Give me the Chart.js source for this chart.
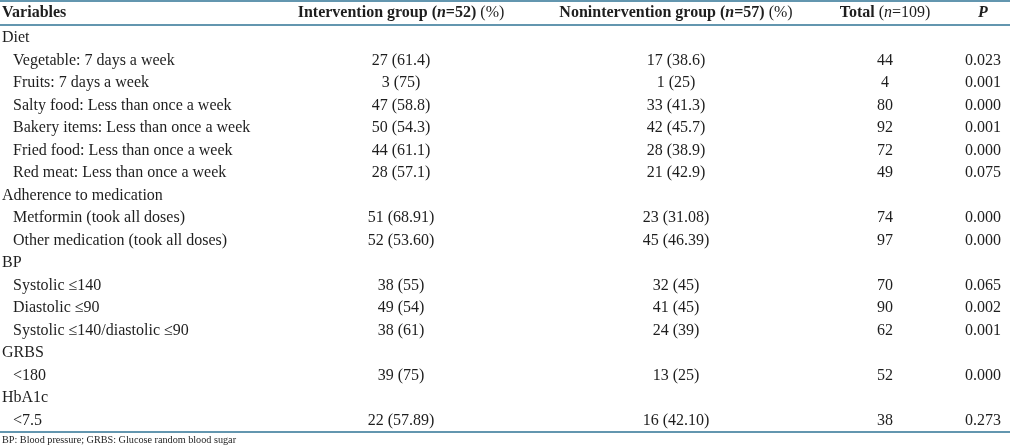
<!DOCTYPE html>
<html>
<head>
<meta charset="utf-8">
<script src="https://cdn.jsdelivr.net/npm/chart.js@4.4.1/dist/chart.umd.min.js"></script>
<style>
html,body{margin:0;padding:0;background:#fff;}
canvas{display:block;}
</style>
</head>
<body>
<canvas id="c" width="1010" height="447"></canvas>
<script>
// ---- data ----
const rowLabels = [
  "Diet",
  "Vegetable: 7 days a week",
  "Fruits: 7 days a week",
  "Salty food: Less than once a week",
  "Bakery items: Less than once a week",
  "Fried food: Less than once a week",
  "Red meat: Less than once a week",
  "Adherence to medication",
  "Metformin (took all doses)",
  "Other medication (took all doses)",
  "BP",
  "Systolic \u2264140",
  "Diastolic \u226490",
  "Systolic \u2264140/diastolic \u226490",
  "GRBS",
  "<180",
  "HbA1c",
  "<7.5"
];
const groupRows = [true,false,false,false,false,false,false,true,false,false,true,false,false,false,true,false,true,false];
const interventionN   = [null,27,3,47,50,44,28,null,51,52,null,38,49,38,null,39,null,22];
const interventionPct = [null,"61.4","75","58.8","54.3","61.1","57.1",null,"68.91","53.60",null,"55","54","61",null,"75",null,"57.89"];
const nonInterventionN   = [null,17,1,33,42,28,21,null,23,45,null,32,41,24,null,13,null,16];
const nonInterventionPct = [null,"38.6","25","41.3","45.7","38.9","42.9",null,"31.08","46.39",null,"45","45","39",null,"25",null,"42.10"];
const totalN = [null,44,4,80,92,72,49,null,74,97,null,70,90,62,null,52,null,38];
const pValues = [null,"0.023","0.001","0.000","0.001","0.000","0.075",null,"0.000","0.000",null,"0.065","0.002","0.001",null,"0.000",null,"0.273"];
const columnHeaders = [
  [{t:"Variables",s:"b"}],
  [{t:"Intervention group (",s:"b"},{t:"n",s:"bi"},{t:"=52)",s:"b"},{t:" (%)",s:"r"}],
  [{t:"Nonintervention group (",s:"b"},{t:"n",s:"bi"},{t:"=57)",s:"b"},{t:" (%)",s:"r"}],
  [{t:"Total ",s:"b"},{t:"(",s:"r"},{t:"n",s:"i"},{t:"=109)",s:"r"}],
  [{t:"P",s:"bi"}]
];
const footnote = "BP: Blood pressure; GRBS: Glucose random blood sugar";

// ---- layout (not data) ----
const colX = [0, 401, 676, 885, 983];
const FONT = "'Liberation Serif', 'Times New Roman', serif";
const TEXT = "#1e1e1e";
const RULE = "#2f7394";
const SIZE = 16;

function fontFor(s, size){
  const w = (s==="b"||s==="bi") ? "bold " : "";
  const it = (s==="i"||s==="bi") ? "italic " : "";
  return it + w + size + "px " + FONT;
}

const cellText = [
  rowLabels.map(l=>l),
  interventionN.map((n,i)=> n===null ? "" : n + " (" + interventionPct[i] + ")"),
  nonInterventionN.map((n,i)=> n===null ? "" : n + " (" + nonInterventionPct[i] + ")"),
  totalN.map(n=> n===null ? "" : String(n)),
  pValues.map(p=> p===null ? "" : p)
];

const datasets = cellText.map((col, ci) => ({
  label: "col" + ci,
  data: rowLabels.map((r, ri) => ({x: colX[ci], y: r})),
  pointRadius: 0,
  pointHoverRadius: 0,
  showLine: false
}));

const tablePlugin = {
  id: "tableText",
  afterDatasetsDraw(chart){
    const ctx = chart.ctx;
    const xs = chart.scales.x;
    const W = chart.width;
    ctx.save();
    // rules
    ctx.strokeStyle = RULE;
    ctx.lineWidth = 1.6;
    [1, 25, 432].forEach(y=>{
      ctx.beginPath(); ctx.moveTo(0, y); ctx.lineTo(W, y); ctx.stroke();
    });
    ctx.fillStyle = TEXT;
    ctx.textBaseline = "middle";
    // header
    const headerY = 13;
    columnHeaders.forEach((segs, ci)=>{
      let total = 0;
      segs.forEach(sg=>{ ctx.font = fontFor(sg.s, SIZE); total += ctx.measureText(sg.t).width; });
      let x = ci===0 ? 2 : xs.getPixelForValue(colX[ci]) - total/2;
      ctx.textAlign = "left";
      segs.forEach(sg=>{ ctx.font = fontFor(sg.s, SIZE); ctx.fillText(sg.t, x, headerY); x += ctx.measureText(sg.t).width; });
    });
    // cells
    cellText.forEach((col, ci)=>{
      const meta = chart.getDatasetMeta(ci);
      meta.data.forEach((pt, ri)=>{
        const txt = col[ri];
        if(!txt) return;
        ctx.font = SIZE + "px " + FONT;
        if(ci===0){
          ctx.textAlign = "left";
          ctx.fillText(txt, groupRows[ri] ? 2 : 13, pt.y);
        } else {
          ctx.textAlign = "center";
          ctx.fillText(txt, pt.x, pt.y);
        }
      });
    });
    // footnote
    ctx.font = "10.2px " + FONT;
    ctx.textAlign = "left";
    ctx.fillText(footnote, 2, 440);
    ctx.restore();
  }
};

new Chart(document.getElementById("c"), {
  type: "scatter",
  data: { labels: rowLabels, datasets },
  options: {
    responsive: false,
    animation: false,
    devicePixelRatio: 1,
    events: [],
    layout: { padding: { top: 27, bottom: 15, left: 0, right: 0 } },
    plugins: { legend: {display:false}, tooltip: {enabled:false} },
    scales: {
      x: { type: "linear", min: 0, max: 1010, display: false },
      y: { type: "category", labels: rowLabels, offset: true, display: false }
    }
  },
  plugins: [tablePlugin]
});
</script>
</body>
</html>
